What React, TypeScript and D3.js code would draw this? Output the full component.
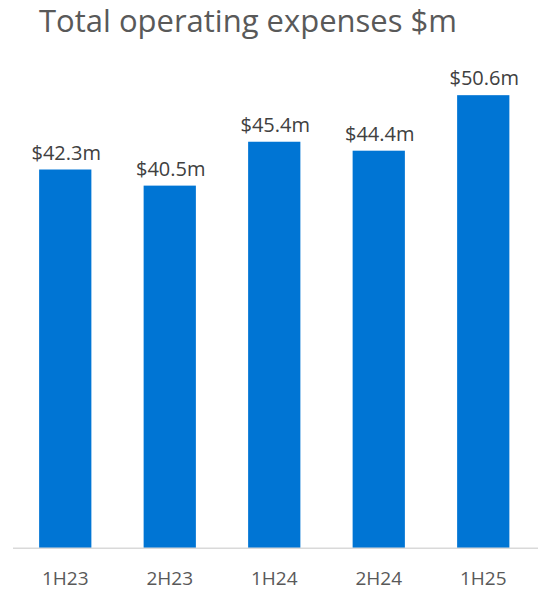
import React from "react";
import * as d3 from "d3";

const categories = ["1H23", "2H23", "1H24", "2H24", "1H25"];
const values = [42.3, 40.5, 45.4, 44.4, 50.6];
const valueLabels = ["$42.3m", "$40.5m", "$45.4m", "$44.4m", "$50.6m"];
const title = "Total operating expenses $m";

const W = 538;
const H = 591;
const FONT = "'Open Sans', 'Noto Sans', sans-serif";

export default function App() {
  const x = d3
    .scaleBand<string>()
    .domain(categories)
    .range([13, 535.5])
    .paddingInner(0.5)
    .paddingOuter(0.25);
  const baseY = 548.3;
  const y = d3.scaleLinear().domain([0, 60]).range([baseY, baseY - 60 * 8.955]);

  return (
    <div style={{ position: "absolute", left: 0, top: 0 }}>
      <svg width={W} height={H} style={{ display: "block", background: "#fff" }}>
        <text x={39} y={32} fontFamily={FONT} fontSize={31} fill="#595959">
          {title}
        </text>
        {categories.map((c, i) => (
          <rect
            key={c}
            x={x(c)!}
            y={y(values[i])}
            width={x.bandwidth()}
            height={baseY - y(values[i])}
            fill="#0075D4"
          />
        ))}
        {categories.map((c, i) => (
          <text
            key={c + "l"}
            x={x(c)! + x.bandwidth() / 2 + 1}
            y={y(values[i]) - 10}
            textAnchor="middle"
            fontFamily={FONT}
            fontSize={20}
            fill="#404040"
          >
            {valueLabels[i]}
          </text>
        ))}
        <line x1={13} x2={538} y1={baseY} y2={baseY} stroke="#D9D9D9" strokeWidth={1.5} />
        {categories.map((c) => (
          <text
            key={c + "a"}
            x={x(c)! + x.bandwidth() / 2}
            y={585}
            textAnchor="middle"
            fontFamily={FONT}
            fontSize={19}
            fill="#595959"
          >
            {c}
          </text>
        ))}
      </svg>
    </div>
  );
}
